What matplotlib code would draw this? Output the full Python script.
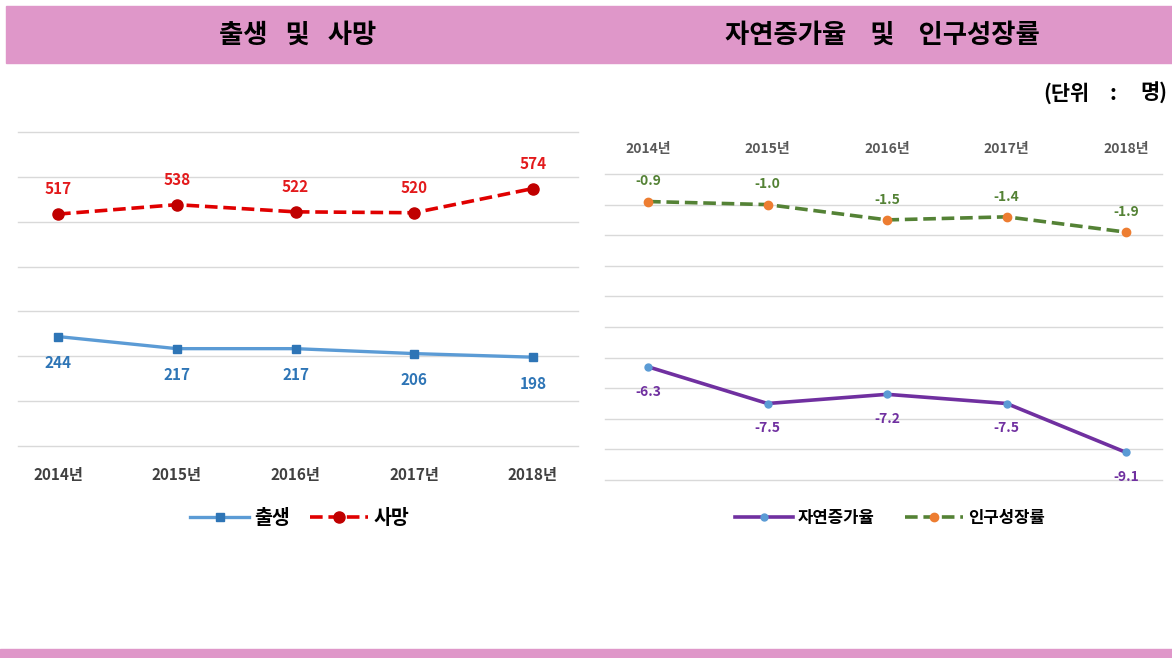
#!/usr/bin/env python
# -*- coding: utf-8 -*-

import matplotlib
matplotlib.use('Agg')
import matplotlib.pyplot as plt
from matplotlib.patches import Rectangle

plt.rcParams['font.family'] = ['Noto Sans CJK KR', 'DejaVu Sans']

years = ['2014년', '2015년', '2016년', '2017년', '2018년']
births = [244, 217, 217, 206, 198]
deaths = [517, 538, 522, 520, 574]
natural_rate = [-6.3, -7.5, -7.2, -7.5, -9.1]
growth_rate = [-0.9, -1.0, -1.5, -1.4, -1.9]

W, H = 1172, 658
PINK = '#df97c9'
GRID = '#d9d9d9'


def box(l, t, r, b):
    # pixel box (image coords) -> figure fraction rect
    return [l / W, 1 - b / H, (r - l) / W, (b - t) / H]


def tidy(ax, levels):
    # light horizontal guides, no spines, no y labels
    for v in levels:
        ax.axhline(v, color=GRID, lw=1, zorder=0, clip_on=False)
    ax.set_yticks([])
    for s in ax.spines.values():
        s.set_visible(False)


def main():
    fig = plt.figure(figsize=(W / 100, H / 100), dpi=100)
    fig.patches.append(Rectangle((6 / W, 1 - 63 / H), 1 - 6 / W, 57 / H,
                                 transform=fig.transFigure, color=PINK, zorder=0))
    fig.patches.append(Rectangle((0, 0), 1, 9 / H,
                                 transform=fig.transFigure, color=PINK, zorder=0))
    fig.text(298 / W, 1 - 35 / H, '출생   및   사망', ha='center', va='center',
             fontsize=19, fontweight='bold')
    fig.text(882 / W, 1 - 35 / H, '자연증가율    및    인구성장률', ha='center', va='center',
             fontsize=19, fontweight='bold')
    # unit note, in three pieces to get the wide spacing round the colon
    unit = dict(va='center', fontsize=15, fontweight='bold')
    fig.text(1043 / W, 1 - 93 / H, '(단위', ha='left', **unit)
    fig.text(1113 / W, 1 - 93 / H, ':', ha='center', **unit)
    fig.text(1167 / W, 1 - 93 / H, '명)', ha='right', **unit)

    x = list(range(len(years)))

    # left: births and deaths
    ax = fig.add_axes(box(18, 132, 578, 446))
    ax.plot(x, births, color='#5b9bd5', lw=2.4, marker='s', ms=6,
            mfc='#2e75b6', mec='#2e75b6', label='출생')
    ax.plot(x, deaths, color='#e00000', lw=2.6, ls=(0, (3.5, 1.6)), marker='o', ms=8,
            mfc='#c00000', mec='#c00000', label='사망')
    for i in x:
        ax.annotate(str(deaths[i]), (i, deaths[i]), xytext=(0, 18), textcoords='offset points',
                    ha='center', va='center', fontsize=11, fontweight='bold', color='#e31a1c')
        ax.annotate(str(births[i]), (i, births[i]), xytext=(0, -19), textcoords='offset points',
                    ha='center', va='center', fontsize=11, fontweight='bold', color='#2e75b6')
    ax.set_xlim(-0.337, 4.379)
    ax.set_ylim(0, 700)
    tidy(ax, range(0, 701, 100))
    ax.set_xticks(x)
    ax.set_xticklabels(years, fontsize=11, fontweight='bold', color='#404040')
    ax.tick_params(length=0, pad=15)
    ax.legend(loc='center', bbox_to_anchor=(300 / W, 1 - 518 / H), bbox_transform=fig.transFigure,
              ncol=2, frameon=False, numpoints=1, handlelength=3, columnspacing=1.0,
              handletextpad=0.3, prop={'size': 14, 'weight': 'bold'})

    # right: rates
    ax2 = fig.add_axes(box(605, 174, 1162, 480))
    ax2.plot(x, natural_rate, color='#7030a0', lw=2.6, marker='o', ms=5,
             mfc='#5b9bd5', mec='#5b9bd5', label='자연증가율')
    ax2.plot(x, growth_rate, color='#548235', lw=2.6, ls=(0, (3.5, 1.6)), marker='o', ms=6,
             mfc='#ed7d31', mec='#ed7d31', label='인구성장률')
    for i in x:
        ax2.annotate('%.1f' % growth_rate[i], (i, growth_rate[i]), xytext=(0, 14.5),
                     textcoords='offset points', ha='center', va='center',
                     fontsize=10, fontweight='bold', color='#548235')
        ax2.annotate('%.1f' % natural_rate[i], (i, natural_rate[i]), xytext=(0, -18),
                     textcoords='offset points', ha='center', va='center',
                     fontsize=10, fontweight='bold', color='#7030a0')
    ax2.set_xlim(-0.36, 4.30)
    ax2.set_ylim(-10, 0)
    tidy(ax2, range(-10, 1))
    ax2.set_xticks(x)
    ax2.set_xticklabels(years, fontsize=10, fontweight='bold', color='#595959')
    ax2.xaxis.tick_top()
    ax2.tick_params(length=0, pad=13)
    ax2.legend(loc='center', bbox_to_anchor=(890 / W, 1 - 518 / H), bbox_transform=fig.transFigure,
               ncol=2, frameon=False, numpoints=1, handlelength=3.5, columnspacing=1.8,
               handletextpad=0.3, prop={'size': 12, 'weight': 'bold'})

    plt.savefig('out.png', dpi=100)


if __name__ == '__main__':
    main()
